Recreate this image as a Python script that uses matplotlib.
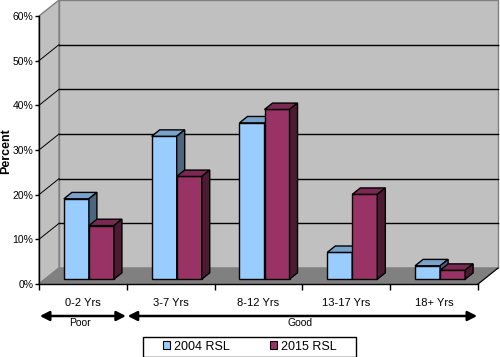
import matplotlib
matplotlib.use('Agg')
import matplotlib.pyplot as plt
from matplotlib.patches import Polygon, Patch, Rectangle
from matplotlib.ticker import PercentFormatter
import numpy as np

plt.rcParams['font.family'] = ['Liberation Sans', 'DejaVu Sans']

# data
categories = ['0-2 Yrs', '3-7 Yrs', '8-12 Yrs', '13-17 Yrs', '18+ Yrs']
rsl_2004 = [18, 32, 35, 6, 3]
rsl_2015 = [12, 23, 38, 19, 2]
series_names = ['2004 RSL', '2015 RSL']
groups = [('Poor', 0, 1), ('Good', 1, 5)]

# face colours: front, top, side
blue = ('#99ccff', '#7aa3cc', '#4d6680')
maroon = ('#993366', '#7a2952', '#4d1a33')

# 3d look: depth offset of the back wall in data units
dx, dy = 0.228, 3.58
f0, f1 = 0.3, 0.7      # depth range the bars take up
bw = 0.285             # bar width
ymax = 60

W, H = 500, 357
fig = plt.figure(figsize=(5, 3.57), dpi=100)
ax = fig.add_axes([39 / W, 73 / H, 439 / W, 268 / H])
ax.set_xlim(0, len(categories))
ax.set_ylim(0, ymax)
ax.patch.set_visible(False)
n = len(categories)


def poly(pts, fc, ec, lw=1.0, z=1):
    ax.add_patch(Polygon(pts, closed=True, facecolor=fc, edgecolor=ec,
                         linewidth=lw, zorder=z, clip_on=False))


# walls and floor
poly([(dx, dy), (n + dx, dy), (n + dx, ymax + dy), (dx, ymax + dy)],
     '#c0c0c0', '#808080', z=0.5)
poly([(0, 0), (dx, dy), (dx, ymax + dy), (0, ymax)], '#c0c0c0', '#808080', z=0.5)
poly([(0, 0), (n, 0), (n + dx, dy), (dx, dy)], '#808080', '#808080', z=0.6)
ax.plot([n, n + dx], [0, dy], color='black', lw=0.8, zorder=0.7, clip_on=False)

for v in range(10, ymax, 10):
    ax.plot([dx, n + dx], [v + dy, v + dy], color='black', lw=1.0, zorder=0.8,
            clip_on=False)
    ax.plot([0, dx], [v, v + dy], color='black', lw=0.7, zorder=0.8,
            clip_on=False)


def bar3d(x0, h, cols):
    x1 = x0 + bw
    a, b = f0 * dx, f0 * dy
    c, d = f1 * dx, f1 * dy
    poly([(x0 + a, b), (x1 + a, b), (x1 + a, h + b), (x0 + a, h + b)], cols[0], 'black', z=2)
    poly([(x0 + a, h + b), (x1 + a, h + b), (x1 + c, h + d), (x0 + c, h + d)], cols[1], 'black', z=2)
    poly([(x1 + a, b), (x1 + c, d), (x1 + c, h + d), (x1 + a, h + b)], cols[2], 'black', z=2)


for i in range(n):
    left = i + 0.5 - bw
    bar3d(left, rsl_2004[i], blue)
    bar3d(left + bw, rsl_2015[i], maroon)

# axes
for s in ['top', 'right']:
    ax.spines[s].set_visible(False)
for s in ['left', 'bottom']:
    ax.spines[s].set_color('black')
    ax.spines[s].set_linewidth(1.0)

ax.set_yticks(np.arange(0, ymax + 1, 10))
ax.yaxis.set_major_formatter(PercentFormatter(decimals=0))
ax.tick_params(axis='y', direction='out', length=3, width=1, pad=1, labelsize=7.5)

ax.set_xticks(np.arange(n + 1))
ax.set_xticklabels([])
ax.set_xticks(np.arange(n) + 0.5, minor=True)
ax.set_xticklabels(categories, minor=True)
ax.tick_params(axis='x', which='major', direction='out', length=4, width=1)
ax.tick_params(axis='x', which='minor', length=0, pad=10, labelsize=8)

fig.text(0, 1 - 151 / H, 'Percent', fontsize=9, fontweight='bold',
         rotation=90, ha='left', va='center')

# Poor / Good range arrows
arrow_y = 1 - 316 / H
for name, a, b in groups:
    ax.annotate('', xy=(b - 0.01, arrow_y), xytext=(a + 0.01, arrow_y),
                xycoords=('data', 'figure fraction'),
                textcoords=('data', 'figure fraction'),
                arrowprops=dict(arrowstyle='<|-|>,head_length=0.55,head_width=0.28',
                                color='black', lw=1.8, shrinkA=0, shrinkB=0))
    ax.annotate(name, xy=((a + b) / 2 - 0.03, 1 - 323 / H),
                xycoords=('data', 'figure fraction'),
                ha='center', va='center', fontsize=7.5)

# legend: entries plus a plain black box around them
handles = [Patch(facecolor=blue[0], edgecolor='black', linewidth=0.8),
           Patch(facecolor=maroon[0], edgecolor='black', linewidth=0.8)]
fig.legend(handles, series_names, loc='center',
           bbox_to_anchor=(249.5 / W, 1 - 346.5 / H), ncol=2,
           fontsize=9, frameon=False,
           handlelength=0.6, handleheight=0.6, handletextpad=0.3,
           columnspacing=3.2, borderpad=0.25, borderaxespad=0)
fig.add_artist(Rectangle((143 / W, 0.5 / H), 213 / W, 19.5 / H,
                         transform=fig.transFigure, facecolor='none',
                         edgecolor='black', linewidth=1.0))

fig.savefig('out.png', dpi=100)
